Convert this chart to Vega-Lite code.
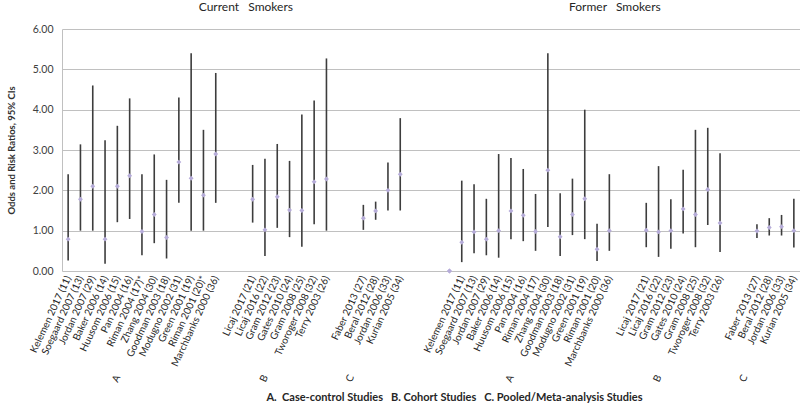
{
  "$schema": "https://vega.github.io/schema/vega-lite/v6.json",
  "width": 738,
  "height": 242,
  "autosize": {"type": "none"},
  "padding": {"left": 62, "top": 29, "right": 0, "bottom": 132},
  "background": "white",
  "config": {"view": {"stroke": null}, "font": "Lato", "axis": {"labelFont": "Lato", "titleFont": "Lato"}},
  "datasets": {
    "ratios": [
      {"study": "Kelemen 2017 (11)|Current", "or": 0.79, "lo": 0.26, "hi": 2.40},
      {"study": "Soegaard 2007 (13)|Current", "or": 1.78, "lo": 1.00, "hi": 3.14},
      {"study": "Jordan 2007 (29)|Current", "or": 2.10, "lo": 1.00, "hi": 4.60},
      {"study": "Baker 2006 (14)|Current", "or": 0.79, "lo": 0.18, "hi": 3.24},
      {"study": "Huusom 2006 (15)|Current", "or": 2.10, "lo": 1.21, "hi": 3.60},
      {"study": "Pan 2004 (16)|Current", "or": 2.36, "lo": 1.29, "hi": 4.28},
      {"study": "Riman 2004 (17)*|Current", "or": 0.98, "lo": 0.39, "hi": 2.40},
      {"study": "Zhang 2004 (30)|Current", "or": 1.40, "lo": 0.69, "hi": 2.89},
      {"study": "Goodman 2003 (18)|Current", "or": 0.83, "lo": 0.31, "hi": 2.26},
      {"study": "Modugno 2002 (31)|Current", "or": 2.70, "lo": 1.69, "hi": 4.30},
      {"study": "Green 2001 (19)|Current", "or": 2.30, "lo": 1.00, "hi": 5.40},
      {"study": "Riman 2001 (20)*|Current", "or": 1.88, "lo": 1.00, "hi": 3.50},
      {"study": "Marchbanks 2000 (36)|Current", "or": 2.90, "lo": 1.69, "hi": 4.91},
      {"study": "Licaj 2017 (21)|Current", "or": 1.78, "lo": 1.20, "hi": 2.63},
      {"study": "Licaj 2016 (22)|Current", "or": 1.02, "lo": 0.37, "hi": 2.78},
      {"study": "Gram 2012 (23)|Current", "or": 1.84, "lo": 1.07, "hi": 3.15},
      {"study": "Gates 2010 (24)|Current", "or": 1.51, "lo": 0.84, "hi": 2.73},
      {"study": "Gram 2008 (25)|Current", "or": 1.50, "lo": 0.60, "hi": 3.88},
      {"study": "Tworoger 2008 (32)|Current", "or": 2.21, "lo": 1.16, "hi": 4.23},
      {"study": "Terry 2003 (26)|Current", "or": 2.28, "lo": 1.00, "hi": 5.27},
      {"study": "Faber 2013 (27)|Current", "or": 1.31, "lo": 1.02, "hi": 1.64},
      {"study": "Beral 2012 (28)|Current", "or": 1.49, "lo": 1.27, "hi": 1.72},
      {"study": "Jordan 2006 (33)|Current", "or": 2.00, "lo": 1.50, "hi": 2.69},
      {"study": "Kurian 2005 (34)|Current", "or": 2.40, "lo": 1.50, "hi": 3.79},
      {"study": "|z", "or": 0, "lo": null, "hi": null},
      {"study": "Kelemen 2017 (11)|Former", "or": 0.71, "lo": 0.22, "hi": 2.24},
      {"study": "Soegaard 2007 (13)|Former", "or": 0.97, "lo": 0.44, "hi": 2.15},
      {"study": "Jordan 2007 (29)|Former", "or": 0.79, "lo": 0.39, "hi": 1.79},
      {"study": "Baker 2006 (14)|Former", "or": 1.00, "lo": 0.33, "hi": 2.90},
      {"study": "Huusom 2006 (15)|Former", "or": 1.49, "lo": 0.79, "hi": 2.80},
      {"study": "Pan 2004 (16)|Former", "or": 1.38, "lo": 0.74, "hi": 2.53},
      {"study": "Riman 2004 (17)|Former", "or": 0.98, "lo": 0.50, "hi": 1.91},
      {"study": "Zhang 2004 (30)|Former", "or": 2.50, "lo": 1.09, "hi": 5.40},
      {"study": "Goodman 2003 (18)|Former", "or": 0.85, "lo": 0.37, "hi": 1.93},
      {"study": "Modugno 2002 (31)|Former", "or": 1.40, "lo": 0.89, "hi": 2.29},
      {"study": "Green 2001 (19)|Former", "or": 1.79, "lo": 0.79, "hi": 4.00},
      {"study": "Riman 2001 (20)|Former", "or": 0.54, "lo": 0.25, "hi": 1.17},
      {"study": "Marchbanks 2000 (36)|Former", "or": 1.00, "lo": 0.50, "hi": 2.40},
      {"study": "Licaj 2017 (21)|Former", "or": 1.01, "lo": 0.59, "hi": 1.69},
      {"study": "Licaj 2016 (22)|Former", "or": 0.97, "lo": 0.35, "hi": 2.60},
      {"study": "Gram 2012 (23)|Former", "or": 1.00, "lo": 0.55, "hi": 1.78},
      {"study": "Gates 2010 (24)|Former", "or": 1.54, "lo": 0.93, "hi": 2.51},
      {"study": "Gram 2008 (25)|Former", "or": 1.40, "lo": 0.59, "hi": 3.50},
      {"study": "Tworoger 2008 (32)|Former", "or": 2.02, "lo": 1.14, "hi": 3.55},
      {"study": "Terry 2003 (26)|Former", "or": 1.19, "lo": 0.47, "hi": 2.92},
      {"study": "Faber 2013 (27)|Former", "or": 0.99, "lo": 0.82, "hi": 1.16},
      {"study": "Beral 2012 (28)|Former", "or": 1.08, "lo": 0.88, "hi": 1.31},
      {"study": "Jordan 2006 (33)|Former", "or": 1.10, "lo": 0.88, "hi": 1.39},
      {"study": "Kurian 2005 (34)|Former", "or": 1.00, "lo": 0.58, "hi": 1.79}
    ]
  },
  "data": {"name": "ratios"},
  "resolve": {"axis": {"x": "independent", "y": "shared"}},
  "layer": [
    {
      "mark": {"type": "rule", "color": "#3d3d3d", "strokeWidth": 1.6},
      "encoding": {
        "x": {
          "field": "study", "type": "nominal", "sort": null,
          "scale": {"type": "point", "padding": 0.5, "domain": ["Kelemen 2017 (11)|Current", "Soegaard 2007 (13)|Current", "Jordan 2007 (29)|Current", "Baker 2006 (14)|Current", "Huusom 2006 (15)|Current", "Pan 2004 (16)|Current", "Riman 2004 (17)*|Current", "Zhang 2004 (30)|Current", "Goodman 2003 (18)|Current", "Modugno 2002 (31)|Current", "Green 2001 (19)|Current", "Riman 2001 (20)*|Current", "Marchbanks 2000 (36)|Current", "|1", "|2", "Licaj 2017 (21)|Current", "Licaj 2016 (22)|Current", "Gram 2012 (23)|Current", "Gates 2010 (24)|Current", "Gram 2008 (25)|Current", "Tworoger 2008 (32)|Current", "Terry 2003 (26)|Current", "|3", "|4", "Faber 2013 (27)|Current", "Beral 2012 (28)|Current", "Jordan 2006 (33)|Current", "Kurian 2005 (34)|Current", "|5", "|6", "|7", "|z", "Kelemen 2017 (11)|Former", "Soegaard 2007 (13)|Former", "Jordan 2007 (29)|Former", "Baker 2006 (14)|Former", "Huusom 2006 (15)|Former", "Pan 2004 (16)|Former", "Riman 2004 (17)|Former", "Zhang 2004 (30)|Former", "Goodman 2003 (18)|Former", "Modugno 2002 (31)|Former", "Green 2001 (19)|Former", "Riman 2001 (20)|Former", "Marchbanks 2000 (36)|Former", "|8", "|9", "Licaj 2017 (21)|Former", "Licaj 2016 (22)|Former", "Gram 2012 (23)|Former", "Gates 2010 (24)|Former", "Gram 2008 (25)|Former", "Tworoger 2008 (32)|Former", "Terry 2003 (26)|Former", "|10", "|11", "Faber 2013 (27)|Former", "Beral 2012 (28)|Former", "Jordan 2006 (33)|Former", "Kurian 2005 (34)|Former"]},
          "axis": {"title": null, "labelExpr": "split(datum.value, '|')[0]", "labelAngle": -65, "labelFontSize": 10, "labelColor": "#262626", "ticks": false, "domain": false, "grid": false, "labelPadding": 5}
        },
        "y": {
          "field": "lo", "type": "quantitative",
          "scale": {"domain": [0, 6], "nice": false, "zero": false},
          "axis": {"title": "Odds and Risk Ratios, 95% CIs", "values": [0, 1, 2, 3, 4, 5, 6], "format": ".2f", "grid": true, "gridColor": "#c0c0c0", "domain": true, "domainColor": "#c0c0c0", "ticks": false, "labelPadding": 9, "labelFontSize": 10.5, "labelColor": "#404040", "titleFontSize": 9.5, "titleFontWeight": "bold", "titleColor": "#303030", "titlePadding": 16}
        },
        "y2": {"field": "hi"}
      }
    },
    {
      "mark": {"type": "point", "shape": "diamond", "filled": true, "size": 24, "color": "#b6acd9", "opacity": 1},
      "encoding": {
        "x": {
          "field": "study", "type": "nominal", "sort": null,
          "scale": {"type": "point", "padding": 0.5},
          "axis": {"orient": "bottom", "offset": 100, "labelExpr": "datum.value == 'Huusom 2006 (15)|Current' || datum.value == 'Huusom 2006 (15)|Former' ? 'A' : (datum.value == 'Licaj 2016 (22)|Current' || datum.value == 'Licaj 2016 (22)|Former' ? 'B' : (datum.value == '|4' || datum.value == '|11' ? 'C' : ''))", "labelAngle": -65, "labelFontSize": 10, "labelColor": "#262626", "ticks": false, "domain": false, "grid": false, "labelPadding": 4, "title": "A.\u00a0 Case-control Studies\u00a0\u00a0 B. Cohort Studies\u00a0\u00a0 C. Pooled/Meta-analysis Studies", "titleFontSize": 11, "titleFontWeight": "bold", "titleColor": "#262626", "titleX": 392, "titleY": 26, "titleAlign": "center", "titleBaseline": "middle"}
        },
        "y": {
          "field": "or", "type": "quantitative",
          "scale": {"domain": [0, 6], "nice": false, "zero": false},
          "axis": {"title": "Odds and Risk Ratios, 95% CIs", "values": [0, 1, 2, 3, 4, 5, 6], "format": ".2f", "grid": true, "gridColor": "#c0c0c0", "domain": true, "domainColor": "#c0c0c0", "ticks": false, "labelPadding": 9, "labelFontSize": 10.5, "labelColor": "#404040", "titleFontSize": 9.5, "titleFontWeight": "bold", "titleColor": "#303030", "titlePadding": 16}
        }
      }
    },
    {
      "transform": [{"filter": "datum.study == '|z'"}],
      "mark": {"type": "point", "shape": "diamond", "filled": true, "size": 24, "color": "#b6acd9", "opacity": 1},
      "encoding": {
        "x": {
          "field": "study", "type": "nominal", "sort": null,
          "scale": {"type": "point", "padding": 0.5},
          "axis": {"orient": "top", "labelExpr": "datum.value == '|2' ? 'Current\u00a0\u00a0 Smokers' : (datum.value == 'Marchbanks 2000 (36)|Former' ? 'Former\u00a0\u00a0 Smokers' : '')", "labelAngle": 0, "labelFontSize": 12, "labelColor": "#262626", "ticks": false, "domain": false, "grid": false, "labelPadding": 16, "labelOffset": 5, "title": null}
        },
        "y": {
          "field": "or", "type": "quantitative",
          "scale": {"domain": [0, 6], "nice": false, "zero": false},
          "axis": {"title": "Odds and Risk Ratios, 95% CIs", "values": [0, 1, 2, 3, 4, 5, 6], "format": ".2f", "grid": true, "gridColor": "#c0c0c0", "domain": true, "domainColor": "#c0c0c0", "ticks": false, "labelPadding": 9, "labelFontSize": 10.5, "labelColor": "#404040", "titleFontSize": 9.5, "titleFontWeight": "bold", "titleColor": "#303030", "titlePadding": 16}
        }
      }
    }
  ]
}
